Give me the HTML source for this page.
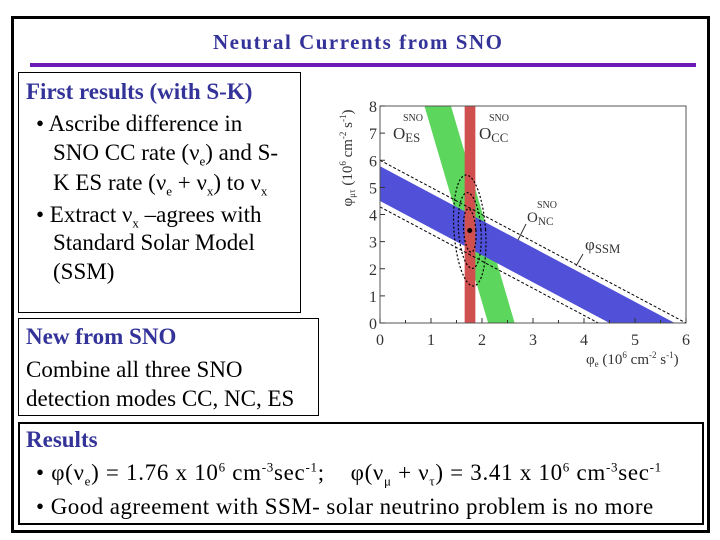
<!DOCTYPE html>
<html><head><meta charset="utf-8">
<style>
body{margin:0;width:720px;height:540px;background:#fff;position:relative;overflow:hidden;font-family:"Liberation Serif",serif;}
.abs{position:absolute;}
.box{position:absolute;border:1px solid #000;box-sizing:border-box;}
.ln{position:absolute;white-space:nowrap;font-size:23px;line-height:28px;color:#000;}
.hd{color:#333399;font-weight:bold;}
sub,sup{font-size:13px;line-height:0;}
</style></head><body>
<div class="abs" style="left:11px;top:16px;width:699px;height:517px;border:3px solid #000;box-sizing:border-box;"></div>
<div class="abs" style="left:213px;top:30px;white-space:nowrap;color:#333399;font-weight:bold;font-size:21px;letter-spacing:1.5px;">Neutral Currents from SNO</div>
<div class="abs" style="left:30px;top:63px;width:666px;height:4px;background:#6a1bb8;"></div>

<div class="box" style="left:18px;top:72px;width:283px;height:241px;"></div>
<div class="ln hd" style="left:26px;top:78px;">First results (with S-K)</div>
<div class="ln" style="left:36px;top:110px;">• Ascribe difference in</div>
<div class="ln" style="left:53px;top:139px;">SNO CC rate (ν<sub>e</sub>) and S-</div>
<div class="ln" style="left:53px;top:169px;">K ES rate (ν<sub>e</sub> + ν<sub>x</sub>) to ν<sub>x</sub></div>
<div class="ln" style="left:36px;top:201px;">• Extract ν<sub>x</sub> –agrees with</div>
<div class="ln" style="left:53px;top:229px;">Standard Solar Model</div>
<div class="ln" style="left:53px;top:258px;">(SSM)</div>

<div class="box" style="left:18px;top:318px;width:301px;height:98px;"></div>
<div class="ln hd" style="left:26px;top:323px;">New from SNO</div>
<div class="ln" style="left:26px;top:356px;">Combine all three SNO</div>
<div class="ln" style="left:26px;top:385px;">detection modes CC, NC, ES</div>

<div class="box" style="left:18px;top:422px;width:686px;height:103px;border:2px solid #000;"></div>
<div class="ln hd" style="left:26px;top:426px;">Results</div>
<div class="ln" style="left:36px;top:459px;letter-spacing:0.7px;">• φ(ν<sub>e</sub>) = 1.76 x 10<sup>6</sup> cm<sup>-3</sup>sec<sup>-1</sup>; &nbsp;&nbsp;&nbsp;φ(ν<sub>μ</sub> + ν<sub>τ</sub>) = 3.41 x 10<sup>6</sup> cm<sup>-3</sup>sec<sup>-1</sup></div>
<div class="ln" style="left:36px;top:493px;letter-spacing:0.45px;">• Good agreement with SSM- solar neutrino problem is no more</div>

<svg class="abs" style="left:0;top:0" width="720" height="540">
 <g id="g"></g>
</svg>
<script>
const xTicks=[0,1,2,3,4,5,6];
const yTicks=[0,1,2,3,4,5,6,7,8];
const ccBand=[1.66,1.87];
const esBand=[2.12,2.64];
const esSlope=0.156;
const ncBand=[4.5,5.78];
const ssmLines=[4.28,6.0];
const bestFit=[1.76,3.41];
const ellipseRx=[0.12,0.22,0.31];
const ellipseRy=[0.8,1.4,2.05];
const X0=380,X1=686,Y0=323,Y1=106;
const sx=v=>X0+(X1-X0)*v/6, sy=v=>Y0-(Y0-Y1)*v/8;
const NS='http://www.w3.org/2000/svg', g=document.getElementById('g');
function mk(t,a){const e=document.createElementNS(NS,t);for(const k in a)e.setAttribute(k,a[k]);g.appendChild(e);return e;}
let e;
e=mk('defs',{});e.innerHTML='<clipPath id="cp"><rect x="'+X0+'" y="'+Y1+'" width="'+(X1-X0)+'" height="'+(Y0-Y1)+'"/></clipPath>';
const cg=document.createElementNS(NS,'g');cg.setAttribute('clip-path','url(#cp)');g.appendChild(cg);
function mc(t,a){const e=document.createElementNS(NS,t);for(const k in a)e.setAttribute(k,a[k]);cg.appendChild(e);return e;}
e=mc('polygon',{points:[[esBand[0]-esSlope*8,8],[esBand[1]-esSlope*8,8],[esBand[1],0],[esBand[0],0]].map(p=>sx(p[0])+','+sy(p[1])).join(' '),fill:'#5cd65c'});

e=mc('polygon',{points:[[0,ncBand[0]],[0,ncBand[1]],[ncBand[1],0],[ncBand[0],0]].map(p=>sx(p[0])+','+sy(p[1])).join(' '),fill:'#5050d8'});

e=mc('rect',{x:sx(ccBand[0]),y:Y1,width:sx(ccBand[1])-sx(ccBand[0]),height:Y0-Y1,fill:'#d05050'});

ssmLines.forEach(c=>{e=mc('line',{x1:sx(0),y1:sy(c),x2:sx(c),y2:sy(0),stroke:'#000','stroke-width':1,'stroke-dasharray':'3,2'});
});
ellipseRx.forEach((rx,i)=>{e=mc('ellipse',{cx:sx(bestFit[0]),cy:sy(bestFit[1]),rx:sx(rx)-sx(0),ry:sy(0)-sy(ellipseRy[i]),fill:'none',stroke:'#000','stroke-width':1.2,'stroke-dasharray':'2,2',transform:'rotate(-4 '+sx(bestFit[0])+' '+sy(bestFit[1])+')'});
});
e=mc('circle',{cx:sx(bestFit[0]),cy:sy(bestFit[1]),r:2.5,fill:'#000'});

e=mk('rect',{x:X0,y:Y1,width:X1-X0,height:Y0-Y1,fill:'none',stroke:'#555','stroke-width':1});

xTicks.forEach(t=>{mk('line',{x1:sx(t),y1:Y0,x2:sx(t),y2:Y0-5,stroke:'#333'});
e=mk('text',{x:sx(t),y:Y0+22,'text-anchor':'middle','font-size':16,fill:'#333','font-family':'Liberation Serif, serif'});e.textContent=t;
});
yTicks.forEach(t=>{mk('line',{x1:X0,y1:sy(t),x2:X0+5,y2:sy(t),stroke:'#333'});
e=mk('text',{x:X0-3,y:sy(t)+6,'text-anchor':'end','font-size':16,fill:'#333','font-family':'Liberation Serif, serif'});e.textContent=t;
});
for(let v=0.5;v<6;v+=1){mk('line',{x1:sx(v),y1:Y0,x2:sx(v),y2:Y0-3,stroke:'#333'});}
function lab(x,y,txt,sub,sz,nm){e=mk('text',{x:x,y:y,'font-size':sz,fill:'#333','font-family':'Liberation Serif, serif'});
e.innerHTML=txt+(sub?'<tspan font-size="'+(sz*0.75)+'" dy="3">'+sub+'</tspan>':'');
}
lab(393,139,'O','ES',17,'es-label');mk('text',{x:403,y:121,'font-size':10,fill:'#333'}).textContent='SNO';
lab(479,139,'O','CC',17,'cc-label');mk('text',{x:489,y:121,'font-size':10,fill:'#333'}).textContent='SNO';
lab(527,222,'O','NC',15,'nc-label');mk('text',{x:537,y:208,'font-size':10,fill:'#333'}).textContent='SNO';
lab(585,250,'φ','SSM',17,'ssm-label');
mk('line',{x1:526,y1:224,x2:518,y2:240,stroke:'#333'});mk('line',{x1:583,y1:254,x2:576,y2:266,stroke:'#333'});
e=mk('text',{x:586,y:364,'font-size':15,fill:'#333','font-family':'Liberation Serif, serif'});
e.innerHTML='φ<tspan font-size="9" dy="3">e</tspan><tspan dy="-3"> (10</tspan><tspan font-size="9" dy="-6">6</tspan><tspan dy="6"> cm</tspan><tspan font-size="9" dy="-6">-2</tspan><tspan dy="6"> s</tspan><tspan font-size="9" dy="-6">-1</tspan><tspan dy="6">)</tspan>';

e=mk('text',{x:352,y:158,'font-size':15,fill:'#333','font-family':'Liberation Serif, serif','text-anchor':'middle',transform:'rotate(-90 352 158)'});
e.innerHTML='φ<tspan font-size="9" dy="3">μτ</tspan><tspan dy="-3"> (10</tspan><tspan font-size="9" dy="-6">6</tspan><tspan dy="6"> cm</tspan><tspan font-size="9" dy="-6">-2</tspan><tspan dy="6"> s</tspan><tspan font-size="9" dy="-6">-1</tspan><tspan dy="6">)</tspan>';

</script>
</body></html>
